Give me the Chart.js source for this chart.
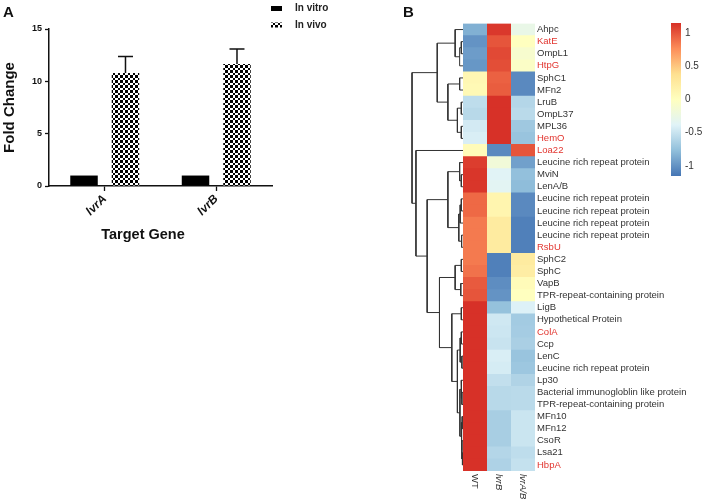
<!DOCTYPE html>
<html>
<head>
<meta charset="utf-8">
<script src="https://cdn.jsdelivr.net/npm/chart.js@4.4.1/dist/chart.umd.min.js"></script>
<style>
  html, body { margin: 0; padding: 0; background: #fff; }
  #wrap { position: relative; width: 704px; height: 503px; overflow: hidden; }
  canvas { position: absolute; top: 0; }
  #barA { left: 0; width: 350px; height: 250px; }
  #heatB { left: 400px; width: 304px; height: 503px; }
  #scaleB { left: 660px; width: 44px; height: 200px; }
</style>
</head>
<body>
<div id="wrap">
  <canvas id="barA" width="350" height="250"></canvas>
  <canvas id="heatB" width="304" height="503"></canvas>
  <canvas id="scaleB" width="44" height="200"></canvas>
</div>
<script>
const fam = "'Liberation Sans', Arial, Helvetica, sans-serif";

// ---- panel A data ----
const targetGenes = ["lvrA", "lvrB"];
const inVitro = [1, 1];
const inVivo = [10.8, 11.65];
const inVivoErr = [1.57, 1.45];
const foldTicks = [0, 5, 10, 15];

// ---- panel B data (row z-scores, top to bottom) ----
const sampleCols = ["WT", "lvrB", "lvrA/B"];
const geneLabels = [
  "Ahpc", "KatE", "OmpL1", "HtpG", "SphC1", "MFn2", "LruB", "OmpL37", "MPL36", "HemO",
  "Loa22", "Leucine rich repeat protein", "MviN", "LenA/B",
  "Leucine rich repeat protein", "Leucine rich repeat protein",
  "Leucine rich repeat protein", "Leucine rich repeat protein", "RsbU",
  "SphC2", "SphC", "VapB", "TPR-repeat-containing protein", "LigB",
  "Hypothetical Protein", "ColA", "Ccp", "LenC", "Leucine rich repeat protein", "Lp30",
  "Bacterial immunogloblin like protein", "TPR-repeat-containing protein",
  "MFn10", "MFn12", "CsoR", "Lsa21", "HbpA"
];
const redGenes = ["KatE", "HtpG", "HemO", "Loa22", "RsbU", "ColA", "HbpA"];
const wtZ = [
  -0.85, -1.0, -0.95, -0.98, 0.1, 0.08, -0.55, -0.58, -0.45, -0.42,
  0.05, 1.1, 1.13, 1.13, 0.92, 0.92, 0.85, 0.85, 0.85,
  0.85, 0.88, 0.98, 1.0, 1.15, 1.15, 1.15, 1.15, 1.15, 1.15, 1.15,
  1.15, 1.15, 1.15, 1.15, 1.15, 1.15, 1.15
];
const lvrBZ = [
  1.12, 1.0, 1.05, 1.03, 0.95, 0.97, 1.15, 1.15, 1.15, 1.15,
  -1.05, -0.17, -0.37, -0.35, 0.13, 0.13, 0.25, 0.25, 0.25,
  -1.1, -1.1, -1.03, -1.0, -0.75, -0.47, -0.48, -0.5, -0.42, -0.44, -0.53,
  -0.58, -0.58, -0.66, -0.66, -0.66, -0.6, -0.63
];
const lvrABZ = [
  -0.27, 0.0, -0.1, -0.05, -1.05, -1.05, -0.6, -0.57, -0.7, -0.73,
  1.0, -0.93, -0.76, -0.78, -1.05, -1.05, -1.1, -1.1, -1.1,
  0.25, 0.22, 0.05, 0.0, -0.4, -0.68, -0.67, -0.65, -0.73, -0.71, -0.62,
  -0.57, -0.57, -0.49, -0.49, -0.49, -0.55, -0.52
];
// row clustering, hclust style: negative = row number, positive = earlier merge
const merges = [
  [-2, -3, 0.3], [-4, 1, 0.6], [-1, 2, 1.4], [-5, -6, 0.6], [-7, -8, 0.3],
  [-9, -10, 0.3], [5, 6, 1.0], [4, 7, 2.7], [3, 8, 4.6], [-13, -14, 0.3],
  [-12, 10, 0.6], [-15, -16, 0.3], [12, -17, 0.5], [-18, -19, 0.25], [13, 14, 0.75],
  [11, 15, 2.7], [-20, -21, 0.3], [-22, -23, 0.4], [17, 18, 1.4], [-24, -25, 0.3],
  [-26, -27, 0.3], [-28, -29, 0.2], [21, 22, 0.5], [-31, -32, 0.2], [-30, 24, 0.35],
  [-33, -34, 0.15], [-36, -37, 0.1], [-35, 27, 0.2], [26, 28, 0.3], [25, 29, 0.55],
  [23, 30, 1.0], [20, 31, 2.0], [19, 32, 4.2], [16, 33, 6.4], [-11, 34, 8.4],
  [9, 35, 9.1]
];
const zLimit = 1.1547;
const scaleTicks = [-1, -0.5, 0, 0.5, 1];
const palette = ["#4575B4", "#91BFDB", "#E0F3F8", "#FFFFBF", "#FEE090", "#FC8D59", "#D73027"];

Chart.defaults.font.family = fam;
Chart.defaults.animation = false;
Chart.defaults.responsive = false;
Chart.defaults.plugins.legend.display = false;
Chart.defaults.plugins.tooltip.enabled = false;

function hexRgb(h) { return [1, 3, 5].map(i => parseInt(h.slice(i, i + 2), 16)); }

function heatColor(v) {
  const t = Math.max(0, Math.min(1, (v + zLimit) / (2 * zLimit))) * (palette.length - 1);
  const i = Math.min(Math.floor(t), palette.length - 2);
  const f = t - i;
  const a = hexRgb(palette[i]), b = hexRgb(palette[i + 1]);
  return "rgb(" + a.map((c, k) => Math.round(c + (b[k] - c) * f)).join(",") + ")";
}

// crisp checkerboard, cells of 3 and 2 px (~2.5 px average)
function checkerPattern(canvas) {
  const c = document.createElement("canvas");
  c.width = 5; c.height = 5;
  const g = c.getContext("2d");
  g.fillStyle = "#fff"; g.fillRect(0, 0, 5, 5);
  g.fillStyle = "#000";
  g.fillRect(0, 0, 3, 3);
  g.fillRect(3, 3, 2, 2);
  return canvas.getContext("2d").createPattern(c, "repeat");
}

// one bracket per merge: child -> node height -> other child
function dendroSegments() {
  const nodes = [];
  const at = id => id < 0 ? { x: 0, y: -id - 1 } : nodes[id - 1];
  return merges.map(([a, b, h]) => {
    const p = at(a), q = at(b);
    nodes.push({ x: h, y: (p.y + q.y) / 2 });
    return [{ x: p.x, y: p.y }, { x: h, y: p.y }, { x: h, y: q.y }, { x: q.x, y: q.y }];
  });
}

// ---------------- panel A ----------------
const errorBars = {
  id: "errorBars",
  afterDatasetsDraw(chart) {
    const ctx = chart.ctx, ys = chart.scales.y;
    chart.data.datasets.forEach((ds, i) => {
      if (!ds.errors) return;
      chart.getDatasetMeta(i).data.forEach((bar, k) => {
        const top = ys.getPixelForValue(ds.data[k] + ds.errors[k]);
        ctx.save();
        ctx.strokeStyle = "#111";
        ctx.lineWidth = 1.5;
        ctx.beginPath();
        ctx.moveTo(bar.x, bar.y); ctx.lineTo(bar.x, top);
        ctx.moveTo(bar.x - 7.5, top); ctx.lineTo(bar.x + 7.5, top);
        ctx.stroke();
        ctx.restore();
      });
    });
  }
};

const panelAText = {
  id: "panelAText",
  afterDraw(chart) {
    const ctx = chart.ctx;
    ctx.save();
    ctx.textBaseline = "middle";
    ctx.fillStyle = "#111";
    ctx.font = "bold 15px " + fam;
    ctx.fillText("A", 3, 12.5);
    // legend
    chart.data.datasets.forEach((ds, i) => {
      const cy = 8.5 + i * 16.5;
      ctx.fillStyle = ds.backgroundColor;
      ctx.fillRect(271, cy - 2.5, 11, 5);
      ctx.fillStyle = "#222";
      ctx.font = "bold 10px " + fam;
      ctx.textAlign = "left";
      ctx.fillText(ds.label, 295, cy);
    });
    // x axis title
    ctx.fillStyle = "#111";
    ctx.font = "bold 14.5px " + fam;
    ctx.textAlign = "center";
    ctx.fillText("Target Gene", 143, 235);
    ctx.restore();
  }
};

const barCanvas = document.getElementById("barA");
new Chart(barCanvas, {
  type: "bar",
  data: {
    labels: targetGenes,
    datasets: [
      { label: "In vitro", data: inVitro, backgroundColor: "#000", borderWidth: 0,
        categoryPercentage: 0.744, barPercentage: 0.663 },
      { label: "In vivo", data: inVivo, errors: inVivoErr, backgroundColor: checkerPattern(barCanvas),
        borderWidth: 0, categoryPercentage: 0.744, barPercentage: 0.663 }
    ]
  },
  options: {
    layout: { padding: { left: 0, top: 29, right: 78, bottom: 0 } },
    scales: {
      x: {
        type: "category",
        offset: true,
        grid: { offset: false, drawOnChartArea: false, color: "#111", tickLength: 5, tickWidth: 1.3 },
        border: { color: "#111", width: 1.5 },
        ticks: { color: "#111", font: { size: 12, weight: "bold", style: "italic" },
                 minRotation: 45, maxRotation: 45, padding: 1, autoSkip: false },
        afterFit: s => { s.height = 64; }
      },
      y: {
        min: 0, max: 15,
        afterBuildTicks: s => { s.ticks = foldTicks.map(v => ({ value: v })); },
        grid: { drawOnChartArea: false, color: "#111", tickLength: 4, tickWidth: 1.3 },
        border: { color: "#111", width: 1.5 },
        ticks: { color: "#111", font: { size: 9, weight: "bold" }, padding: 3 },
        title: { display: true, text: "Fold Change", color: "#111",
                 font: { size: 15, weight: "bold" }, padding: { top: 1, bottom: 0 } },
        afterFit: s => { s.width = 49; }
      }
    }
  },
  plugins: [errorBars, panelAText]
});

// ---------------- panel B heatmap + dendrogram ----------------
const heatText = {
  id: "heatText",
  afterDraw(chart) {
    const ctx = chart.ctx, xs = chart.scales.x, bottom = chart.chartArea.bottom;
    ctx.save();
    ctx.textBaseline = "middle";
    ctx.fillStyle = "#111";
    ctx.font = "bold 15px " + fam;
    ctx.fillText("B", 3, 12.5);
    ctx.fillStyle = "#333";
    sampleCols.forEach((name, j) => {
      ctx.save();
      ctx.translate(xs.getPixelForValue(j + 0.5), bottom + 3);
      ctx.rotate(Math.PI / 2);
      ctx.font = (name === "WT" ? "" : "italic ") + "9.5px " + fam;
      ctx.textAlign = "left";
      ctx.fillText(name, 0, 0);
      ctx.restore();
    });
    ctx.restore();
  }
};

const heatCols = [wtZ, lvrBZ, lvrABZ];
new Chart(document.getElementById("heatB"), {
  type: "bar",
  data: {
    labels: geneLabels,
    datasets: heatCols.map((vals, j) => ({
      label: sampleCols[j],
      indexAxis: "y", xAxisID: "x", yAxisID: "y",
      data: vals.map(() => [j, j + 1]),
      backgroundColor: vals.map(heatColor),
      borderWidth: 0, grouped: false, barPercentage: 1.06, categoryPercentage: 1
    })).concat(dendroSegments().map(seg => ({
      type: "line", indexAxis: "x", xAxisID: "xd", yAxisID: "yd",
      data: seg, borderColor: "#333", borderWidth: 1, pointRadius: 0, fill: false, tension: 0
    })))
  },
  options: {
    indexAxis: "y",
    layout: { padding: { left: 7, top: 23.5, right: 0, bottom: 32 } },
    scales: {
      x: { type: "linear", axis: "x", position: "bottom", display: false, offset: false,
           min: -7 / 3, max: 3 },
      xd: { type: "linear", axis: "x", position: "bottom", display: false, offset: false,
            reverse: true, min: -72 / 5.6, max: 10 },
      yd: { type: "linear", axis: "y", position: "left", display: false, offset: false,
            reverse: true, min: -0.5, max: geneLabels.length - 0.5 },
      y: {
        type: "category", position: "right", offset: true,
        grid: { display: false, drawTicks: false },
        border: { display: false },
        ticks: {
          autoSkip: false, padding: 2, font: { size: 9.5 },
          color: c => redGenes.includes(geneLabels[c.index]) ? "#e2352f" : "#333"
        },
        afterFit: s => { s.width = 169; }
      }
    }
  },
  plugins: [heatText]
});

// ---------------- panel B colour key ----------------
new Chart(document.getElementById("scaleB"), {
  type: "bar",
  data: {
    labels: [""],
    datasets: [{
      data: [[-zLimit, zLimit]],
      borderWidth: 0, barPercentage: 1, categoryPercentage: 1,
      backgroundColor: c => {
        const ch = c.chart, ys = ch.scales.y;
        if (!ch.chartArea || !ys) return palette[0];
        const g = ch.ctx.createLinearGradient(0, ys.getPixelForValue(-zLimit), 0, ys.getPixelForValue(zLimit));
        palette.forEach((col, i) => g.addColorStop(i / (palette.length - 1), col));
        return g;
      }
    }]
  },
  options: {
    layout: { padding: { left: 11, top: 23, right: 0, bottom: 24 } },
    scales: {
      x: { display: false },
      y: {
        position: "right", min: -zLimit, max: zLimit,
        afterBuildTicks: s => { s.ticks = scaleTicks.map(v => ({ value: v })); },
        grid: { display: false, drawTicks: false },
        border: { display: false },
        ticks: { padding: 4, font: { size: 10 }, color: "#333", callback: v => String(v) },
        afterFit: s => { s.width = 23; }
      }
    }
  }
});
</script>
</body>
</html>
